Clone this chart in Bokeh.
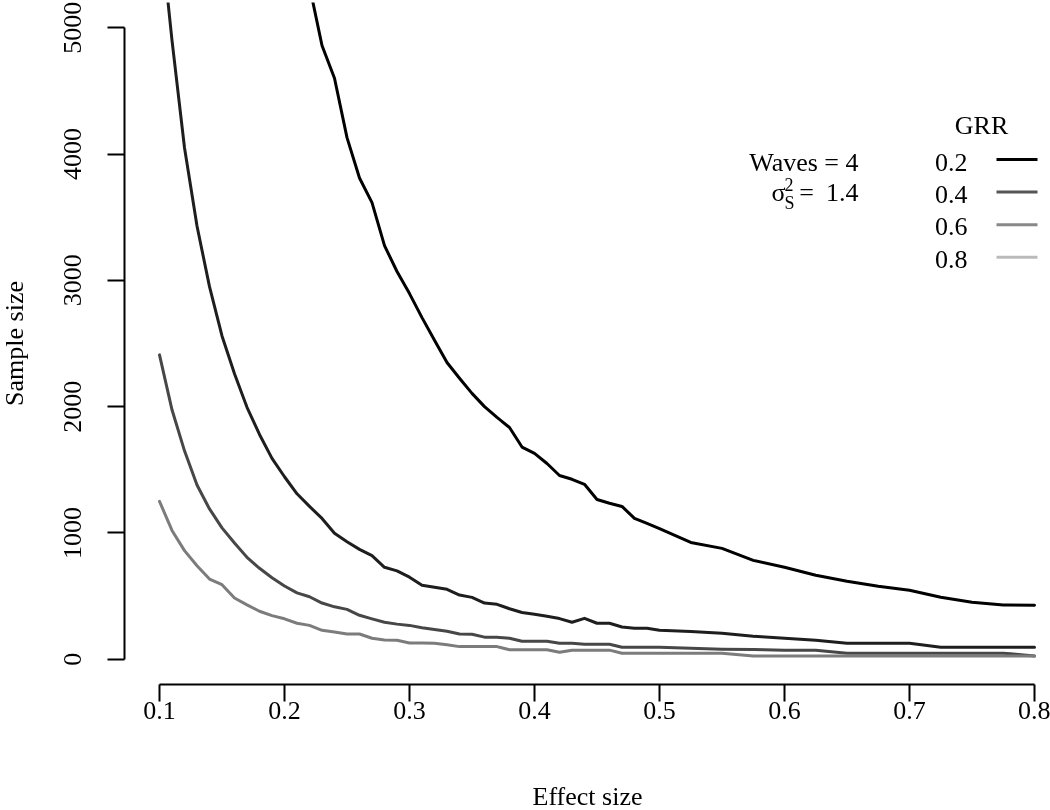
from bokeh.plotting import figure
from bokeh.models import Label, BoxAnnotation, FixedTicker, Range1d
from bokeh.embed import file_html
from bokeh.resources import INLINE

# ---------------- data ----------------
effect_size = [0.10, 0.11, 0.12, 0.13, 0.14, 0.15, 0.16, 0.17, 0.18, 0.19,
               0.20, 0.21, 0.22, 0.23, 0.24, 0.25, 0.26, 0.27, 0.28, 0.29,
               0.30, 0.31, 0.32, 0.33, 0.34, 0.35, 0.36, 0.37, 0.38, 0.39,
               0.40, 0.41, 0.42, 0.43, 0.44, 0.45, 0.46, 0.47, 0.48, 0.49,
               0.50, 0.525, 0.55, 0.575, 0.60, 0.625, 0.65, 0.675, 0.70,
               0.725, 0.75, 0.775, 0.80]

n_grr02 = [25700, 21200, 17800, 15200, 13100, 11400, 10000, 8900, 7900, 7100,
           6400, 5830, 5330, 4860, 4600, 4130, 3810, 3615, 3275, 3070,
           2895, 2705, 2525, 2350, 2225, 2105, 2000, 1915, 1835, 1680,
           1630, 1550, 1455, 1425, 1385, 1265, 1235, 1210, 1115, 1075,
           1035, 925, 878, 783, 728, 665, 617, 578, 546,
           491, 451, 430, 427]

n_grr04 = [5850, 4900, 4050, 3430, 2950, 2560, 2260, 1995, 1780, 1590,
           1445, 1310, 1210, 1115, 997, 930, 870, 820, 728, 700,
           650, 585, 570, 554, 508, 490, 445, 435, 400, 370,
           356, 340, 322, 293, 324, 285, 285, 255, 245, 245,
           229, 220, 206, 182, 166, 150, 127, 127, 127,
           95, 95, 95, 95]

n_grr06 = [2410, 1975, 1650, 1380, 1190, 1040, 920, 807, 720, 645,
           580, 525, 495, 445, 415, 395, 348, 320, 293, 278,
           268, 250, 235, 222, 200, 198, 175, 174, 166, 142,
           142, 142, 127, 127, 119, 119, 119, 95, 95, 95,
           95, 87, 80, 78, 72, 71, 48, 48, 48,
           48, 48, 48, 25]

n_grr08 = [1250, 1020, 860, 740, 635, 590, 485, 430, 380, 345,
           320, 285, 268, 229, 215, 200, 200, 166, 152, 150,
           128, 128, 127, 115, 100, 100, 100, 100, 75, 75,
           75, 75, 55, 72, 72, 72, 72, 48, 48, 48,
           48, 48, 48, 26, 25, 25, 25, 25, 25,
           25, 25, 25, 25]

grr_labels = ["0.2", "0.4", "0.6", "0.8"]
x_ticks = [0.1, 0.2, 0.3, 0.4, 0.5, 0.6, 0.7, 0.8]
y_ticks = [0, 1000, 2000, 3000, 4000, 5000]
x_title = "Effect size"
y_title = "Sample size"
waves_text = "Waves = 4"
sigma_value_text = "1.4"

# ---------------- styles / layout ----------------
curve_colors = ["#000000", "#1e1e1e", "#474747", "#7c7c7c"]
legend_colors = ["#000000", "#555555", "#888888", "#bbbbbb"]
FONT = "Liberation Serif"
FS = "26px"

SHIFT = 8                      # figure starts 8px left of the page edge
PAGE_W = 1050
W = PAGE_W + SHIFT
H = 814
FRAME_L, FRAME_R = 124, PAGE_W  # page coordinates
FRAME_T, FRAME_B = 2, 684
X0 = 0.072
X1 = 0.1 + (FRAME_R - 159) / 1250.0
Y0, Y1 = -200, 5200


def dx(px):
    return X0 + (px - FRAME_L) * (X1 - X0) / (FRAME_R - FRAME_L)


def dy(py):
    return Y0 + (FRAME_B - py) * (Y1 - Y0) / (FRAME_B - FRAME_T)


p = figure(width=W, height=H, output_backend="svg", toolbar_location=None,
           x_range=Range1d(X0, X1), y_range=Range1d(Y0, Y1),
           min_border_left=FRAME_L + SHIFT, min_border_right=0,
           min_border_top=FRAME_T, min_border_bottom=H - FRAME_B)
p.styles = {"position": "fixed", "left": f"-{SHIFT}px", "top": "0px"}
p.outline_line_color = None
p.xgrid.visible = False
p.ygrid.visible = False
p.background_fill_color = "white"
p.border_fill_color = "white"

series = [n_grr02, n_grr04, n_grr06, n_grr08]
for vals, col in zip(series, curve_colors):
    p.line(effect_size, vals, line_color=col, line_width=3,
           line_join="round", line_cap="round")

for ax, ticks, b, title in ((p.xaxis[0], x_ticks, (0.1, 0.8), x_title),
                            (p.yaxis[0], y_ticks, (0, 5000), y_title)):
    ax.ticker = FixedTicker(ticks=ticks)
    ax.bounds = b
    ax.axis_line_width = 2
    ax.axis_line_color = "black"
    ax.major_tick_line_width = 2
    ax.major_tick_line_color = "black"
    ax.major_tick_in = 0
    ax.major_tick_out = 17
    ax.minor_tick_line_color = None
    ax.major_label_text_font = FONT
    ax.major_label_text_font_size = FS
    ax.major_label_text_color = "black"
    ax.axis_label = title
    ax.axis_label_text_font = FONT
    ax.axis_label_text_font_size = FS
    ax.axis_label_text_font_style = "normal"
    ax.axis_label_text_color = "black"

p.xaxis[0].major_label_standoff = 0
p.xaxis[0].axis_label_standoff = 60
p.yaxis[0].major_label_orientation = "vertical"
p.yaxis[0].major_label_standoff = 26
p.yaxis[0].axis_label_standoff = 33


def add_label(text, px, py, align="left", size=FS):
    p.add_layout(Label(x=dx(px), y=dy(py), text=text, text_align=align,
                       text_baseline="middle", text_font=FONT,
                       text_font_size=size, text_color="black"))


# annotation text
add_label(waves_text, 858, 162, align="right")
add_label("=", 806, 192, align="center")
add_label(sigma_value_text, 858, 192, align="right")
add_label("σ", 785, 192, align="right")
add_label("2", 784, 184, align="left", size="18px")
add_label("S", 784, 202, align="left", size="18px")

# legend
add_label("GRR", 981, 125, align="center")
for i, (lab, col) in enumerate(zip(grr_labels, legend_colors)):
    add_label(lab, 967, 162 + i * 32.2, align="right")
    cy = 159 + i * 32.6
    p.add_layout(BoxAnnotation(left=dx(996), right=dx(1037),
                               top=dy(cy - 1.5), bottom=dy(cy + 1.5),
                               fill_color=col, fill_alpha=1.0, line_color=None))

open("out.html", "w").write(file_html(p, INLINE))
